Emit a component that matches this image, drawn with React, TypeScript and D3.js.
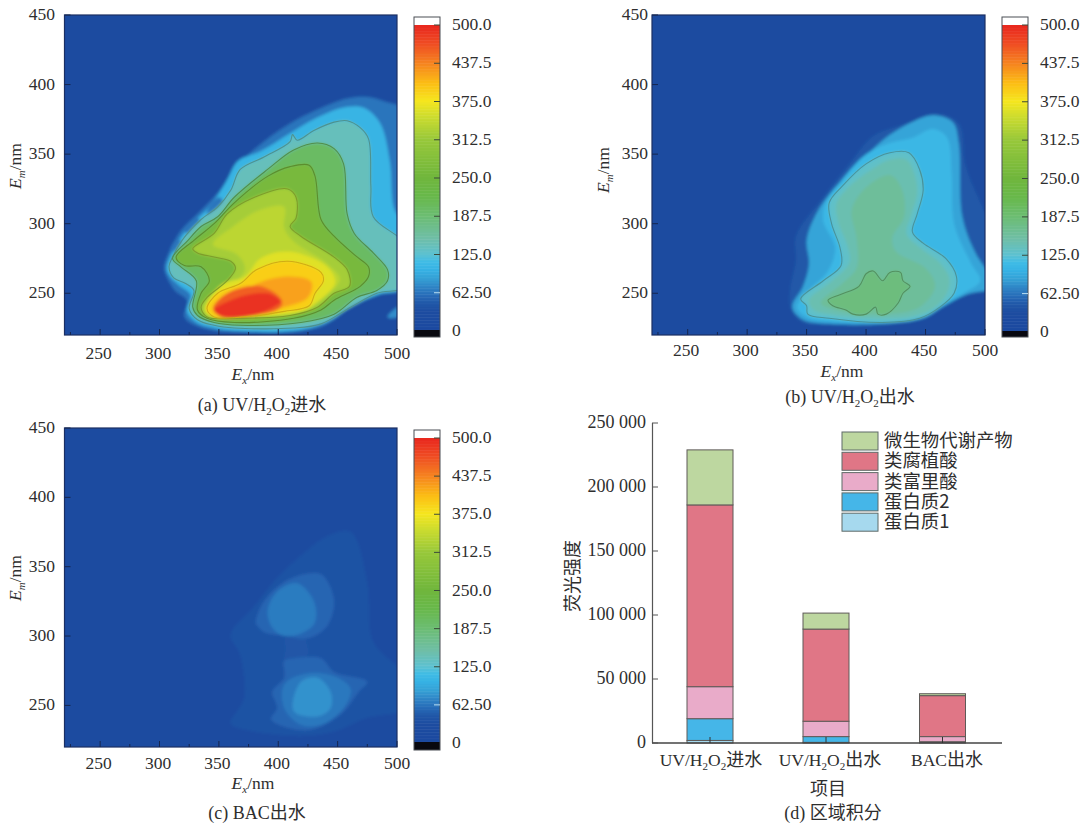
import React from "react";
import * as d3 from "d3";

type Pt = [number, number];

// ---------- EEM contour outlines: [Ex nm, Em nm] ----------
const a040: Pt[] = [[304,269],[310,283],[318,295],[332,307],[349,322],[363,339],[382,355],[408,371],[433,382],[458,390],[475,391],[489,388],[508,380],[508,254],[484,249],[464,243],[447,231],[433,225],[411,222],[363,222],[346,223],[330,227],[321,233],[323,245],[313,252],[306,262]];
const a075: Pt[] = [[306,268],[312,282],[325,298],[342,312],[356,330],[366,345],[385,352],[410,365],[432,376],[458,384],[473,383],[486,372],[494,345],[498,310],[508,298],[508,255],[484,249],[463,241],[440,229],[413,223],[363,223],[346,225],[331,229],[323,237],[326,249],[316,256],[308,263]];
const aScallop1: Pt[] = [[309,281],[315,289],[318,287],[312,280]];
const aScallop2: Pt[] = [[321,295],[332,304],[335,300],[325,293]];
const aScallop3: Pt[] = [[340,307],[350,319],[354,315],[346,305]];
const a125: Pt[] = [[360,324],[368,339],[388,348],[410,359],[412,364],[416,360],[430,367],[447,373],[458,374],[469,369],[476,361],[478,327],[480,305],[508,284],[508,255],[483,250],[461,240],[436,228],[413,225],[363,225],[346,227],[332,231],[325,239],[329,252],[322,257],[312,261],[308,269],[311,276],[319,288],[335,303],[349,312]];
const a187: Pt[] = [[349,305],[363,319],[391,339],[413,353],[433,358],[447,354],[455,343],[458,307],[464,293],[480,279],[492,267],[492,259],[483,252],[466,247],[447,235],[419,229],[368,227],[346,229],[332,234],[328,240],[331,259],[318,269],[311,275],[324,288],[335,298]];
const a250: Pt[] = [[314,276],[329,288],[346,300],[363,315],[391,334],[410,341],[426,342],[431,334],[436,303],[447,291],[465,277],[476,269],[476,262],[469,255],[447,245],[436,238],[413,232],[363,229],[340,232],[332,238],[335,250],[342,259],[335,269],[321,270]];
const a312: Pt[] = [[328,282],[346,293],[357,307],[380,319],[408,325],[415,319],[415,304],[410,298],[419,291],[447,276],[458,267],[460,255],[447,250],[433,240],[410,234],[363,232],[340,233],[335,240],[340,247],[357,259],[364,268],[360,273],[346,276],[332,279]];
const a350: Pt[] = [[345,285],[362,298],[385,310],[405,312],[405,297],[412,288],[440,272],[452,260],[440,248],[425,240],[405,236],[363,235],[348,237],[365,258],[372,268],[365,278]];
const a375: Pt[] = [[338,238],[352,256],[372,262],[385,275],[408,280],[440,270],[448,258],[435,245],[420,237],[370,233],[345,233]];
const a400: Pt[] = [[340,239],[349,250],[368,257],[382,267],[408,273],[436,265],[438,259],[431,250],[426,241],[405,237],[371,233],[346,233]];
const a430: Pt[] = [[350,238],[365,248],[385,258],[410,262],[428,258],[425,247],[405,240],[375,235],[355,235]];
const a460: Pt[] = [[345,239],[357,250],[385,255],[403,245],[401,239],[380,234],[352,233]];
const a490: Pt[] = [[346,238],[363,246],[382,250],[395,249],[402,244],[396,240],[377,234],[352,234]];
const aSpot: Pt[] = [[492,233],[500,240],[508,242],[508,236],[496,232]];

const b045: Pt[] = [[337,238],[336,252],[341,274],[341,291],[364,319],[386,343],[406,363],[434,372],[459,379],[478,372],[484,341],[508,288],[508,254],[484,249],[464,240],[448,232],[414,227],[369,227],[347,229]];
const b090: Pt[] = [[338,240],[347,255],[352,271],[350,288],[358,307],[372,324],[392,341],[414,360],[436,372],[456,378],[473,373],[478,358],[481,305],[492,279],[508,258],[508,254],[484,249],[464,240],[448,232],[414,228],[369,228],[347,231]];
const b110: Pt[] = [[342,240],[352,252],[368,266],[374,283],[364,302],[366,315],[380,332],[400,350],[420,358],[440,362],[456,368],[468,362],[472,335],[474,300],[488,272],[496,259],[484,251],[464,241],[448,233],[414,229],[369,230],[350,233]];
const b125: Pt[] = [[345,246],[364,259],[379,270],[378,283],[371,300],[369,315],[380,327],[400,343],[420,351],[436,351],[445,339],[448,324],[443,307],[439,294],[448,286],[467,275],[476,262],[474,250],[462,240],[445,232],[414,229],[369,232],[351,235],[350,241]];
const b150: Pt[] = [[352,245],[370,258],[386,272],[384,285],[377,300],[375,314],[385,326],[403,338],[420,346],[434,346],[441,335],[443,322],[438,306],[434,293],[445,283],[462,272],[470,261],[468,250],[458,240],[442,234],[414,232],[370,235],[356,238]];
const b185: Pt[] = [[362,243],[380,257],[392,268],[392,290],[388,310],[400,326],[420,335],[430,325],[432,305],[422,290],[425,280],[450,268],[458,255],[445,240],[415,235],[375,238]];
const b215: Pt[] = [[368,245],[378,249],[394,255],[400,264],[406,266],[414,259],[420,265],[429,265],[431,259],[437,255],[431,250],[427,243],[417,235],[410,235],[408,240],[400,235],[389,235],[383,238],[372,241]];

const c040: Pt[] = [[360,301],[380,322],[399,342],[419,358],[441,372],[461,375],[475,339],[480,296],[508,270],[508,248],[475,241],[447,231],[419,228],[374,232],[360,237],[371,255],[368,286]];
const cNeck: Pt[] = [[406,298],[422,298],[424,284],[405,278],[406,291]];
const c055: Pt[] = [[381,310],[388,325],[405,339],[424,345],[437,344],[447,326],[443,310],[436,303],[422,298],[408,300],[388,303],[382,308]];
const c056: Pt[] = [[405,282],[413,284],[436,284],[447,274],[475,267],[468,260],[452,243],[424,232],[394,240],[399,248],[395,260],[405,270]];
const c070: Pt[] = [[391,318],[399,332],[416,338],[430,325],[431,310],[422,303],[405,300],[395,306]];
const c071: Pt[] = [[405,265],[424,273],[447,271],[461,262],[455,248],[436,236],[419,236],[405,248]];
const c085: Pt[] = [[419,267],[433,270],[444,260],[444,248],[433,242],[413,246]];

type Layer = [number, Pt[], boolean];
const layersA: Layer[] = [[62,a040,false],[102,a075,false],[62,aScallop1,false],[62,aScallop2,false],[62,aScallop3,false],[138,a125,true],[200,a187,true],[262,a250,true],[322,a312,true],[338,a350,false],[362,a375,false],[392,a400,true],[420,a430,false],[458,a460,false],[490,a490,false],[75,aSpot,false]];
const layersB: Layer[] = [[45,b045,false],[88,b090,false],[106,b110,false],[130,b125,true],[145,b150,false],[160,b185,false],[180,b215,true]];
const layersC: Layer[] = [[37,c040,false],[44,cNeck,false],[53,c055,false],[53,c056,false],[66,c070,false],[64,c071,false],[78,c085,false]];

const axisTicksX = [250, 300, 350, 400, 450, 500];
const axisTicksY = [250, 300, 350, 400, 450];
const minorTicksX = [225, 275, 325, 375, 425, 475];
const barTickValues = [62.5, 125, 187.5, 250, 312.5, 375, 437.5, 500];
const barTickLabels = ["62.50", "125.0", "187.5", "250.0", "312.5", "375.0", "437.5", "500.0"];

// colour map stops
const cmapValues = [0, 30, 45, 55, 70, 85, 100, 112, 125, 150, 187.5, 220, 250, 312.5, 350, 375, 405, 437.5, 470, 500];
const cmapColors = ["#1b49a0","#1d4ca0","#2058a8","#2668b5","#2e82c4","#35a0d5","#36b2e4","#3fbce6","#5dc1d0","#6fbea8","#6cbd72","#68b84a","#70b63c","#98c83a","#cddc2e","#f5e61e","#fcbc14","#f58220","#ef4b23","#e8261e"];

// ---------- stacked bars ----------
const samples = ["inlet", "outlet", "bac"];
const protein1 = [2000, 500, 500];
const protein2 = [17000, 4500, 500];
const fulvic = [25000, 12000, 4000];
const humic = [142000, 72000, 32000];
const metabolite = [43000, 12500, 1500];
const seriesKeys = ["蛋白质1", "蛋白质2", "类富里酸", "类腐植酸", "微生物代谢产物"];
const seriesColors = ["#a6d9ee", "#45b6e8", "#e9abc9", "#e07686", "#bdd7a0"];
const seriesValues = [protein1, protein2, fulvic, humic, metabolite];
const yBarTicks = [0, 50000, 100000, 150000, 200000, 250000];
const yBarLabels = ["0", "50 000", "100 000", "150 000", "200 000", "250 000"];

const SERIF = "'Liberation Serif', 'Noto Sans CJK SC', serif";
const CJK = "'Noto Sans CJK SC', 'Liberation Serif', serif";
const INK = "#2e2e2e";

const cmap = d3.scaleLinear<string>().domain(cmapValues).range(cmapColors).clamp(true);
const closed = d3.line().curve(d3.curveCatmullRomClosed.alpha(0.5));

function Sub({ t }: { t: string }) {
  return (
    <>
      <tspan dy="4" fontSize="11">{t}</tspan>
      <tspan dy="-4" fontSize="1">{"\u200a"}</tspan>
    </>
  );
}

function UV({ tail, x, y, anchor = "middle" }: { tail: string; x: number; y: number; anchor?: string }) {
  return (
    <text x={x} y={y} textAnchor={anchor} fontFamily={SERIF} fontSize="17.5" fill={INK}>
      UV/H<Sub t="2" />O<Sub t="2" />
      <tspan fontFamily={CJK} fontSize="18">{tail}</tspan>
    </text>
  );
}

type PanelCfg = {
  id: string; layers: Layer[];
  left: number; right: number; top: number; bottom: number;
  barX: number; barTop: number; barBottom: number; v500: number; v0: number;
  labelX: number; yLabelRight: number; xLabelY: number;
  titleX: number; titleY: number; yTitleX: number; yTitleY: number;
};

function Eem({ p }: { p: PanelCfg }) {
  const x = d3.scaleLinear().domain([220, 500]).range([p.left, p.right]);
  const y = d3.scaleLinear().domain([220, 450]).range([p.bottom, p.top]);
  const cb = d3.scaleLinear().domain([0, 500]).range([p.v0, p.v500]);
  const project = (pts: Pt[]) => closed(pts.map(([e, m]) => [x(e), y(m)] as Pt)) as string;
  const steps = d3.range(0, 500, 2.5);
  return (
    <g>
      <defs>
        <clipPath id={`clip-${p.id}`}>
          <rect x={p.left} y={p.top} width={p.right - p.left} height={p.bottom - p.top} />
        </clipPath>
      </defs>
      <g clipPath={`url(#clip-${p.id})`}>
        <g filter="url(#soft)">
          <rect x={p.left - 20} y={p.top - 20} width={p.right - p.left + 40} height={p.bottom - p.top + 40} fill={cmap(20)} />
          {p.layers.map(([lvl, pts], i) => (
            <path key={i} d={project(pts)} fill={cmap(lvl)} />
          ))}
        </g>
        <g filter="url(#softLine)">
          {p.layers.filter((l) => l[2]).map(([lvl, pts], i) => (
            <path key={i} d={project(pts)} fill="none" stroke={d3.color(cmap(lvl))!.darker(lvl > 350 ? 0.5 : 0.75).formatHex()} strokeWidth="1.1" />
          ))}
        </g>
      </g>
      <rect x={p.left} y={p.top} width={p.right - p.left} height={p.bottom - p.top} fill="none" stroke="#1b2f63" strokeWidth="1.2" />
      {axisTicksX.map((t) => (
        <g key={t}>
          <line x1={x(t)} x2={x(t)} y1={p.bottom} y2={p.bottom - 6} stroke="#16264f" />
          <text x={x(t) - (t === 500 ? 0 : 1.5)} y={p.xLabelY} textAnchor="middle" fontFamily={SERIF} fontSize="17.5" fill={INK}>{t}</text>
        </g>
      ))}
      {minorTicksX.map((t) => (
        <line key={t} x1={x(t)} x2={x(t)} y1={p.bottom} y2={p.bottom - 3} stroke="#16264f" />
      ))}
      {axisTicksY.map((t) => (
        <g key={t}>
          <line x1={p.left} x2={p.left + 6} y1={y(t)} y2={y(t)} stroke="#16264f" />
          <text x={p.yLabelRight} y={y(t) + 5} textAnchor="end" fontFamily={SERIF} fontSize="17.5" fill={INK}>{t}</text>
        </g>
      ))}
      <text x={p.titleX} y={p.titleY} textAnchor="middle" fontFamily={SERIF} fontSize="17.5" fill={INK}>
        <tspan fontStyle="italic">E</tspan><tspan dy="4" fontSize="11" fontStyle="italic">x</tspan><tspan dy="-4">/nm</tspan>
      </text>
      <text transform={`translate(${p.yTitleX},${p.yTitleY}) rotate(-90)`} textAnchor="middle" fontFamily={SERIF} fontSize="17.5" fill={INK}>
        <tspan fontStyle="italic">E</tspan><tspan dy="4" fontSize="11" fontStyle="italic">m</tspan><tspan dy="-4">/nm</tspan>
      </text>

      <rect x={p.barX} y={p.barTop} width={26} height={cb(500) - p.barTop} fill="#ffffff" />
      {steps.map((v) => (
        <rect key={v} x={p.barX} y={cb(v + 2.5)} width={26} height={Math.abs(cb(v) - cb(v + 2.5)) + 0.5} fill={cmap(v)} />
      ))}
      <rect x={p.barX} y={cb(0) - 1} width={26} height={p.barBottom - cb(0) + 1} fill="#08080f" />
      <rect x={p.barX} y={p.barTop} width={26} height={p.barBottom - p.barTop} fill="none" stroke="#4a4f55" strokeWidth="1" />
      {barTickValues.map((v) => (
        <line key={v} x1={p.barX + 20} x2={p.barX + 26} y1={cb(v)} y2={cb(v)} stroke={v < 100 ? "#bfe3f5" : "#3b4a3a"} strokeWidth="1" />
      ))}
      {barTickValues.map((v, i) => (
        <text key={v} x={p.labelX} y={cb(v) + 5} fontFamily={SERIF} fontSize="17.5" fill={INK}>{barTickLabels[i]}</text>
      ))}
      <text x={p.labelX} y={cb(0) + 5} fontFamily={SERIF} fontSize="17.5" fill={INK}>0</text>
    </g>
  );
}

function Bars() {
  const centers = [710, 826, 942.5];
  const y = d3.scaleLinear().domain([0, 250000]).range([743, 423]);
  const table = samples.map((s, i) => {
    const row: Record<string, number | string> = { s };
    seriesKeys.forEach((k, j) => (row[k] = seriesValues[j][i]));
    return row;
  });
  const stacked = d3.stack<any>().keys(seriesKeys)(table);
  const barW = 46;
  const legendOrder = [...seriesKeys].reverse();
  return (
    <g>
      {stacked.map((layer, j) => (
        <g key={seriesKeys[j]}>
          {layer.map((d, i) => (
            <rect key={i} x={centers[i] - barW / 2} y={y(d[1])} width={barW} height={Math.max(0.5, y(d[0]) - y(d[1]))} fill={seriesColors[j]} stroke="#5f5a58" strokeWidth="1" />
          ))}
        </g>
      ))}
      <line x1={652.5} x2={652.5} y1={423} y2={743} stroke="#555" strokeWidth="1.2" />
      <line x1={652} x2={1002} y1={743} y2={743} stroke="#444" strokeWidth="1.6" />
      {yBarTicks.map((t, i) => (
        <g key={t}>
          <line x1={652} x2={658} y1={y(t)} y2={y(t)} stroke="#555" />
          <text x={646} y={y(t) + 5} textAnchor="end" fontFamily={SERIF} fontSize="18" fill={INK}>{yBarLabels[i]}</text>
        </g>
      ))}
      {centers.map((c) => (
        <line key={c} x1={c} x2={c} y1={743} y2={737} stroke="#333" />
      ))}
      <UV tail="进水" x={711} y={766} />
      <UV tail="出水" x={830} y={766} />
      <text x={947} y={766} textAnchor="middle" fontFamily={SERIF} fontSize="17.5" fill={INK}>BAC<tspan fontFamily={CJK} fontSize="18">出水</tspan></text>
      <text x={828} y={795} textAnchor="middle" fontFamily={CJK} fontSize="18" fill={INK}>项目</text>
      <text x={833} y={819} textAnchor="middle" fontFamily={SERIF} fontSize="18" fill={INK}>(d) <tspan fontFamily={CJK}>区域积分</tspan></text>
      <text transform="translate(579,576) rotate(-90)" textAnchor="middle" fontFamily={CJK} fontSize="18" fill={INK}>荧光强度</text>
      {legendOrder.map((k, i) => (
        <g key={k}>
          <rect x={842} y={432 + i * 20.3} width={36} height={18} fill={seriesColors[seriesKeys.indexOf(k)]} stroke="#5f6a68" strokeWidth="1" />
          <text x={884} y={447 + i * 20.3} fontFamily={CJK} fontSize="18.4" fill={INK}>{k}</text>
        </g>
      ))}
    </g>
  );
}

const panels: PanelCfg[] = [
  { id: "a", layers: layersA, left: 64.5, right: 397, top: 15, bottom: 335, barX: 414, barTop: 17, barBottom: 337, v500: 25, v0: 331, labelX: 452, yLabelRight: 55, xLabelY: 359, titleX: 253, titleY: 380, yTitleX: 21, yTitleY: 166 },
  { id: "b", layers: layersB, left: 652, right: 985, top: 15, bottom: 335, barX: 1002, barTop: 17, barBottom: 337, v500: 25, v0: 332, labelX: 1040, yLabelRight: 648, xLabelY: 356, titleX: 842, titleY: 377, yTitleX: 609, yTitleY: 170 },
  { id: "c", layers: layersC, left: 64.5, right: 397, top: 428, bottom: 747, barX: 414, barTop: 430, barBottom: 750, v500: 438, v0: 743, labelX: 452, yLabelRight: 55, xLabelY: 769, titleX: 253, titleY: 789, yTitleX: 21, yTitleY: 578 },
];

export default function App() {
  return (
    <svg width={1080} height={830} viewBox="0 0 1080 830" style={{ position: "absolute", left: 0, top: 0, display: "block", background: "#fff" }}>
      <defs>
        <filter id="soft" x="-5%" y="-5%" width="110%" height="110%"><feGaussianBlur stdDeviation="1.7" /></filter>
        <filter id="softLine" x="-5%" y="-5%" width="110%" height="110%"><feGaussianBlur stdDeviation="0.45" /></filter>
      </defs>
      {panels.map((p) => <Eem key={p.id} p={p} />)}
      <text x={262} y={411} textAnchor="middle" fontFamily={SERIF} fontSize="18" fill={INK}>
        (a) UV/H<Sub t="2" />O<Sub t="2" /><tspan fontFamily={CJK}>进水</tspan>
      </text>
      <text x={850} y={403} textAnchor="middle" fontFamily={SERIF} fontSize="18" fill={INK}>
        (b) UV/H<Sub t="2" />O<Sub t="2" /><tspan fontFamily={CJK}>出水</tspan>
      </text>
      <text x={257} y={819} textAnchor="middle" fontFamily={SERIF} fontSize="18" fill={INK}>
        (c) BAC<tspan fontFamily={CJK}>出水</tspan>
      </text>
      <Bars />
    </svg>
  );
}
